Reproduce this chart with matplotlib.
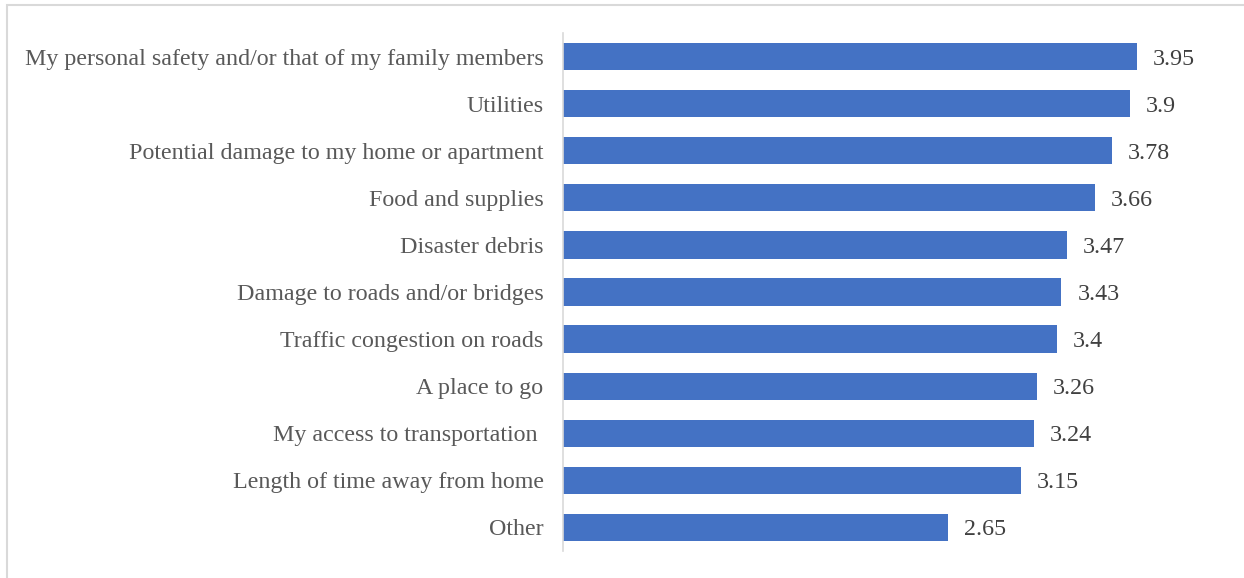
import matplotlib
matplotlib.use('Agg')
import matplotlib.pyplot as plt
from matplotlib.patches import Rectangle

categories = [
    'My personal safety and/or that of my family members',
    'Utilities',
    'Potential damage to my home or apartment',
    'Food and supplies',
    'Disaster debris',
    'Damage to roads and/or bridges',
    'Traffic congestion on roads',
    'A place to go',
    'My access to transportation ',
    'Length of time away from home',
    'Other',
]
scores = [3.95, 3.9, 3.78, 3.66, 3.47, 3.43, 3.4, 3.26, 3.24, 3.15, 2.65]
score_labels = ['3.95', '3.9', '3.78', '3.66', '3.47', '3.43', '3.4', '3.26', '3.24', '3.15', '2.65']

plt.rcParams['font.family'] = ['Liberation Serif', 'DejaVu Serif']

W, H = 1244, 578
fig = plt.figure(figsize=(W / 100, H / 100), dpi=100)

# light outer chart frame
fig.patches.append(Rectangle((7 / W, -0.05), 1.1, 1 - 5 / H + 0.05,
                             transform=fig.transFigure, fill=False,
                             edgecolor='#D9D9D9', linewidth=1.5))

ax = fig.add_axes([563 / W, 1 - 551 / H, (1220 - 563) / W, (551 - 33) / H])

ypos = list(range(len(categories)))
ax.barh(ypos, scores, height=0.58, color='#4472C4')
ax.set_ylim(len(categories) - 0.5, -0.5)
ax.set_xlim(0, (1220 - 563) / 145.3)

for y, v, s in zip(ypos, scores, score_labels):
    ax.text(v + 0.11, y, s, va='center_baseline', ha='left', fontsize=17.3, color='#404040')

ax.set_yticks(ypos)
ax.set_yticklabels(categories, fontsize=17.3, color='#595959')
ax.tick_params(axis='y', length=0, pad=14)
ax.set_xticks([])

for side in ['top', 'right', 'bottom']:
    ax.spines[side].set_visible(False)
ax.spines['left'].set_color('#D9D9D9')
ax.spines['left'].set_linewidth(1.2)

fig.savefig('out.png', dpi=100)
